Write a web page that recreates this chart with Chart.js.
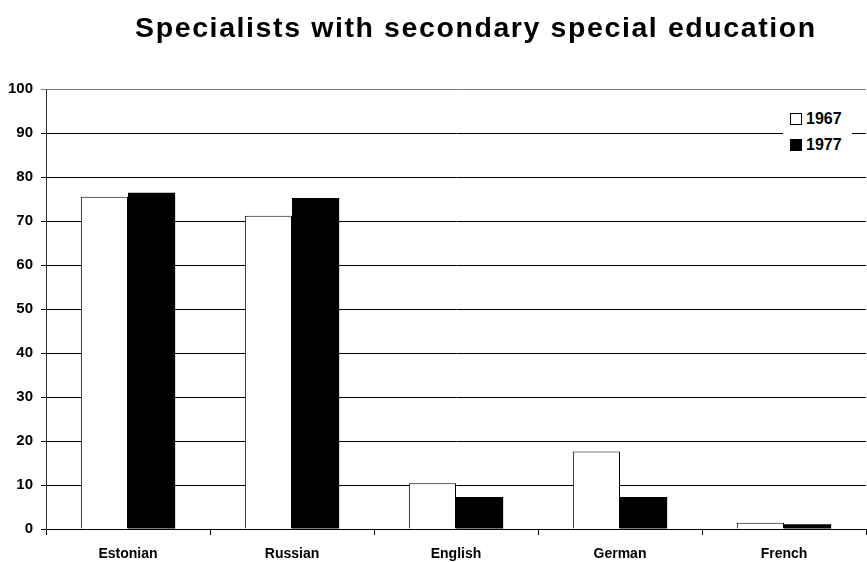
<!DOCTYPE html>
<html>
<head>
<meta charset="utf-8">
<script src="https://cdn.jsdelivr.net/npm/chart.js@4"></script>
<style>
  html, body { margin: 0; padding: 0; background: #fff; }
  #wrap { position: relative; width: 867px; height: 562px; }
  #title { position: absolute; left: 0; top: 13px; width: 952px; text-align: center;
    font: bold 28.5px/28.5px "Liberation Sans", Arial, sans-serif; letter-spacing: 1.6px; color: #000; white-space: nowrap; }
  #legend { position: absolute; left: 783px; top: 105px; width: 62px; background: #fff; padding: 1px 0 1px 7px;
    font: bold 16px/26px "Liberation Sans", Arial, sans-serif; color: #000; }
  #legend .sw { display: inline-block; width: 10px; height: 10px; border: 1px solid #000; margin-right: 4px; vertical-align: -1px; }
</style>
</head>
<body>
<div id="wrap">
  <canvas id="c" width="867" height="562"></canvas>
  <div id="title">Specialists with secondary special education</div>
  <div id="legend"></div>
</div>
<script>
const categories = ["Estonian", "Russian", "English", "German", "French"];
const seriesNames = ["1967", "1977"];
const values1967 = [75.5, 71.2, 10.4, 17.6, 1.4];
const values1977 = [76.4, 75.2, 7.3, 7.3, 1.1];
const yTicks = [0, 10, 20, 30, 40, 50, 60, 70, 80, 90, 100];

const fills = ["#ffffff", "#000000"];
document.getElementById('legend').innerHTML = seriesNames.map((n, i) =>
  '<div><span class="sw" style="background:' + fills[i] + '"></span>' + n + '</div>').join('');

Chart.defaults.font.family = '"Liberation Sans", Arial, sans-serif';
Chart.defaults.color = '#000';

new Chart(document.getElementById('c'), {
  type: 'bar',
  data: {
    labels: categories,
    datasets: [
      { label: seriesNames[0], data: values1967, backgroundColor: fills[0], borderColor: '#000', borderWidth: 1,
        categoryPercentage: 0.575, barPercentage: 1.0 },
      { label: seriesNames[1], data: values1977, backgroundColor: fills[1], borderColor: '#000', borderWidth: 0,
        categoryPercentage: 0.575, barPercentage: 1.0 }
    ]
  },
  options: {
    responsive: false,
    animation: false,
    devicePixelRatio: 1,
    layout: { padding: { top: 89, right: 1, left: 0, bottom: 0 } },
    plugins: { legend: { display: false }, title: { display: false }, tooltip: { enabled: false } },
    scales: {
      x: {
        grid: { offset: true, drawOnChartArea: false, drawTicks: true, tickLength: 6, color: '#000', lineWidth: 1 },
        border: { display: true, color: '#000', width: 1 },
        ticks: { font: { size: 14, weight: 'bold' }, padding: 11, maxRotation: 0 },
        afterFit: s => { s.height = 33; }
      },
      y: {
        min: 0, max: 100,
        afterBuildTicks: s => { s.ticks = yTicks.map(v => ({ value: v })); },
        grid: { color: ctx => (ctx.tick && ctx.tick.value === 100) ? '#808080' : '#000', lineWidth: 1, tickLength: 5 },
        border: { display: true, color: '#333', width: 1 },
        ticks: { font: { size: 15, weight: 'bold' }, padding: 8 },
        afterFit: s => { s.width = 46; }
      }
    }
  }
});
</script>
</body>
</html>
